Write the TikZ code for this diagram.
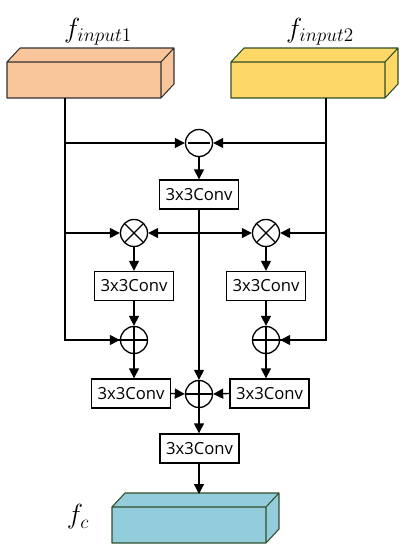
\documentclass[tikz,border=0pt]{standalone}
\usepackage{amsmath}
\usepackage{fontspec}
\newfontfamily\convfont{Open Sans}
\usetikzlibrary{arrows.meta,calc,positioning}

\definecolor{inA}{HTML}{F9C59B}
\definecolor{inB}{HTML}{FDD866}
\definecolor{outC}{HTML}{93CDDC}
\definecolor{edgeG}{HTML}{2F4F2A}

% cuboid: front lower-left x, front top y, width, height, depth dx, dy, fill, edge
\newcommand{\featbox}[8]{%
  \draw[fill=#7,draw=#8,line width=0.8pt,line join=round]
    (#1,#2) rectangle ++(#3,#4)
    (#1,#2) -- ++(#5,-#6) -- ++(#3,0) -- ++(-#5,#6) -- cycle
    ($(#1,#2)+(#3,0)$) -- ++(#5,-#6) -- ++(0,#4) -- ++(-#5,#6) -- cycle;}

\tikzset{
  conv/.style={draw,line width=1pt,minimum width=79*0.75pt,minimum height=29*0.75pt,
    inner sep=0pt,font=\convfont\fontsize{12.5}{13}\selectfont},
  op/.style={draw,circle,line width=1pt,minimum size=27*0.75pt,inner sep=0pt},
  opplus/.style={op,path picture={\draw[line width=1pt]
    (path picture bounding box.north)--(path picture bounding box.south)
    (path picture bounding box.west)--(path picture bounding box.east);}},
  opminus/.style={op,path picture={\draw[line width=1pt]
    ($(path picture bounding box.west)+(2pt,0)$)--($(path picture bounding box.east)+(-2pt,0)$);}},
  optimes/.style={op,path picture={\draw[line width=1pt]
    (path picture bounding box.center)++(45:10.2pt)--++(225:20.4pt)
    (path picture bounding box.center)++(135:10.2pt)--++(315:20.4pt);}},
  flow/.style={line width=1pt,-{Triangle[length=7.5pt,width=7.5pt]}},
  wire/.style={line width=1pt},
  flabel/.style={font=\fontsize{21}{24}\selectfont},
}

\begin{document}
\begin{tikzpicture}[x=0.75pt,y=-0.75pt]
\useasboundingbox (0,0) rectangle (406,550);
% input and output features
\featbox{7}{62}{154}{36}{13}{14}{inA}{black!80}
\featbox{231}{62}{154}{36}{13}{14}{inB}{edgeG}
\featbox{112}{507}{154}{36}{13}{14}{outC}{edgeG}
\node[flabel] at (98,32) {$f_{input1}$};
\node[flabel] at (320,32) {$f_{input2}$};
\node[flabel] at (78,517) {$f_{c}$};
\coordinate (inL) at (65,98); \coordinate (inR) at (326,98);
\coordinate (outTop) at (199,494);

% operators and convolutions
\node[opminus] (sub) at (199,143) {};
\node[conv] (convD) at (199,194.5) {3x3Conv};
\node[optimes] (mulL) at (134,233) {};
\node[optimes] (mulR) at (266,233) {};
\node[conv] (convL) at (134,286) {3x3Conv};
\node[conv] (convR) at (266,286) {3x3Conv};
\node[opplus] (addL) at (134,340) {};
\node[opplus] (addR) at (266,340) {};
\node[conv] (convBL) at (131,393.5) {3x3Conv};
\node[conv] (convBR) at (269.5,393.5) {3x3Conv};
\node[opplus] (addC) at (199,394) {};
\node[conv] (convF) at (199.5,448.5) {3x3Conv};

% side branches
\draw[wire] (inL) |- (addL.west);
\draw[wire] (inR) |- (addR.east);
\draw[flow] (inL |- addL) -- (addL.west);
\draw[flow] (inR |- addR) -- (addR.east);
\draw[flow] (inL |- sub) -- (sub.west);
\draw[flow] (inR |- sub) -- (sub.east);
\draw[flow] (inL |- mulL) -- (mulL.west);
\draw[flow] (inR |- mulR) -- (mulR.east);

% middle
\draw[flow] (sub) -- (convD);
\draw[flow] (convD.south) -- (addC.north);
\draw[flow] (convD.south |- mulL) -- (mulL.east);
\draw[flow] (convD.south |- mulR) -- (mulR.west);
\draw[flow] (mulL) -- (convL);
\draw[flow] (mulR) -- (convR);
\draw[flow] (convL) -- (addL);
\draw[flow] (convR) -- (addR);
\draw[flow] (addL.south) -- (addL |- convBL.north);
\draw[flow] (addR.south) -- (addR |- convBR.north);
\draw[flow] (convBL.east) -- (addC.west);
\draw[flow] (convBR.west) -- (addC.east);
\draw[flow] (addC.south) -- (addC |- convF.north);
\draw[flow] (addC |- convF.south) -- (outTop);
\end{tikzpicture}
\end{document}
